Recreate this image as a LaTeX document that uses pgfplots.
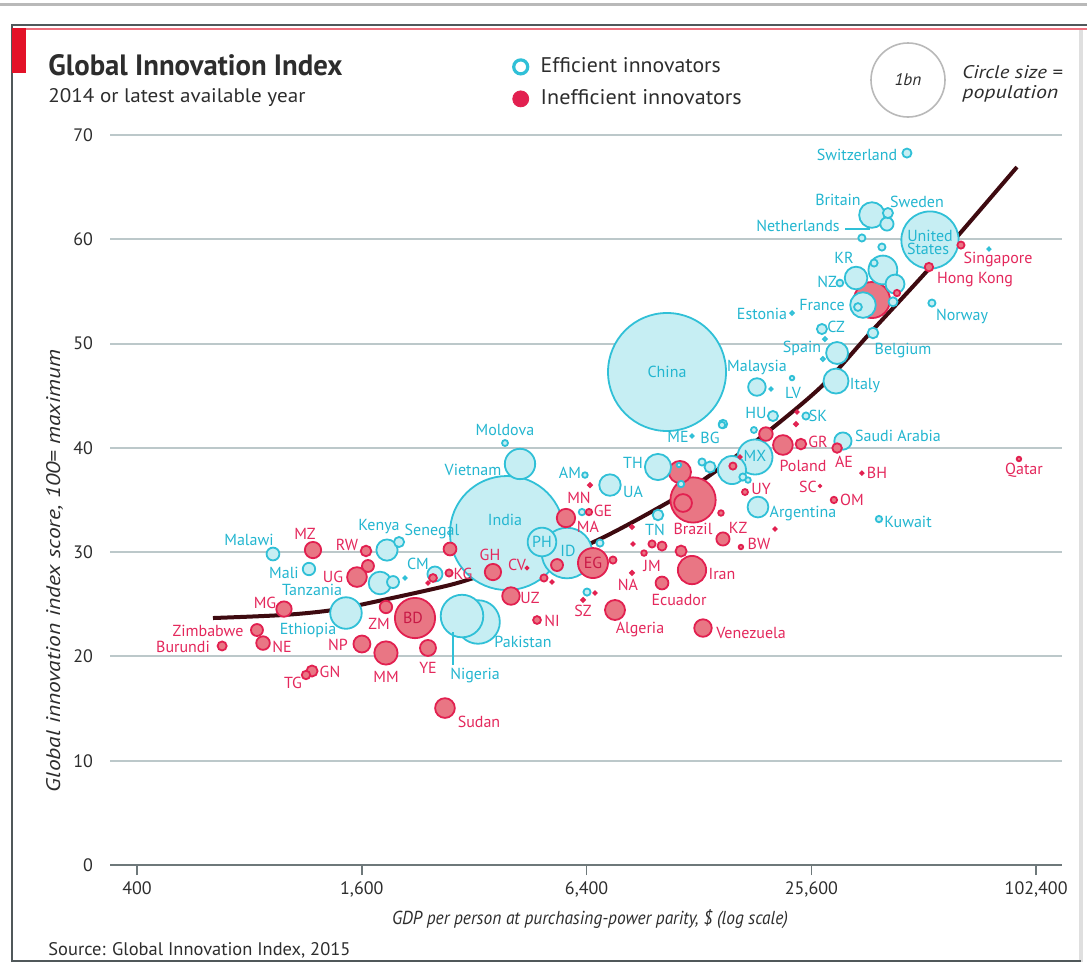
\documentclass[border=0pt]{standalone}
\usepackage{pgfplots}
\pgfplotsset{compat=1.18}
\usepackage{pgfplotstable}
\usepackage{graphicx}
\usepackage{fontspec}
\setmainfont{PT Sans}
\definecolor{cyanT}{RGB}{35,182,208}
\definecolor{cyanD}{RGB}{48,192,215}
\definecolor{cyanF}{RGB}{198,238,243}
\definecolor{redT}{RGB}{228,40,92}
\definecolor{redDk}{RGB}{200,25,70}
\definecolor{redD}{RGB}{226,32,80}
\definecolor{redF}{RGB}{233,118,132}
\definecolor{trendc}{RGB}{62,10,16}
\definecolor{gridc}{RGB}{188,200,202}
\definecolor{axisc}{RGB}{110,120,122}
\definecolor{textc}{RGB}{45,45,45}
\definecolor{ecored}{RGB}{227,18,40}
\definecolor{framec}{RGB}{80,88,90}

\pgfplotstableread{
gdp score pop
12340 35.00 200
2221 23.68 158
37200 54.17 127
12260 28.28 78
1857 20.33 53
11380 37.68 48
}\ineffBig

\pgfplotstableread{
gdp score pop
10510 47.27 1360
3917 31.83 1270
53200 59.92 320
5672 29.91 250
3277 23.30 185
2968 23.87 177
18080 39.12 120
1451 24.16 97
4244 38.45 90
39800 57.05 81
4860 30.97 80
15690 37.87 77
9940 38.16 67
37200 62.32 64
35200 53.69 64
29800 46.40 61
33720 56.28 50
1790 27.04 50
30000 49.09 47
7393 36.43 45
1869 30.20 44
18420 34.32 42
}\effBig

\pgfplotstableread{
gdp score pop
42880 55.70 35
18300 45.83 30
31100 40.65 29
2512 27.90 22
40800 61.46 17
925 29.82 16
1155 28.38 15
1940 27.13 14
13700 38.16 12
9940 33.56 11
37440 51.01 11
41040 62.51 10
27320 51.39 10
20200 43.05 10
2013 30.97 10
46160 68.26 8
42360 54.00 8
14840 42.28 7
34120 53.50 6
34960 60.12 5
39560 59.25 5
37680 57.72 5
53840 53.88 5
24760 43.05 5
13040 38.64 5
16780 37.20 5
6950 30.87 5
6417 26.17 5
30520 55.80 4.5
38840 33.17 4
14750 42.19 4
6220 33.84 4
11460 36.53 4
17960 41.71 3.5
3870 40.46 3.5
17320 36.91 3
6337 37.39 3
22720 46.69 2
11310 38.35 2
27840 50.43 1.5
27480 48.51 1.5
22720 52.92 1.3
76520 59.06 1
19960 45.64 1
12260 41.13 1
2088 27.52 1
}\effSmall

\pgfplotstableread{
gdp score pop
6657 28.95 88
7626 24.45 39
21480 40.27 38
1553 27.61 38
2672 15.05 38
5636 33.27 33
11600 34.71 31
13120 22.72 30
4014 25.79 30
1601 21.19 28
1184 30.20 26
3592 28.09 26
2406 20.81 25
990 24.54 23
19340 41.32 18
870 21.28 18
14840 31.26 17
10190 27.04 16
2756 30.30 16
1857 24.74 15
838 22.53 14
1662 28.67 14
5333 28.76 14
11460 30.10 12
1177 18.60 12
1642 30.11 11
24000 40.36 11
30000 39.98 9
676 21.00 8
10190 30.58 8
52860 57.33 7
1134 18.22 7
2482 27.52 6
4714 23.49 6
2740 28.00 5
64400 59.44 5
15780 38.25 5
9580 30.78 5
7530 29.24 5
4920 27.52 5
43400 54.84 4
29420 35.00 4
6494 33.84 4
17000 35.76 3.5
14660 33.75 3
9120 29.91 3
92100 38.93 2
16580 30.49 2
6535 36.43 1.5
8468 28.00 1.5
8468 32.41 1.5
6260 25.41 1.5
23280 42.28 1.5
23420 43.43 1
34960 37.58 1
16480 39.12 1
20460 32.21 1
8520 30.78 1
6740 26.08 1
5170 27.13 1
2406 27.04 1
4432 28.48 0.7
27000 36.34 0.5
}\ineffSmall

\pgfplotsset{
  bubble/.style 2 args={
    scatter, only marks, mark=*,
    scatter/use mapped color={draw=#1, fill=#2},
    visualization depends on={0.8*sqrt(\thisrow{pop}) \as \psize},
    scatter/@pre marker code/.append style={/tikz/mark size=\psize pt},
    mark options={line width=0.9pt},
  },
}
\newcommand{\lab}{\fontsize{8}{9}\selectfont}
\newcommand{\lc}[3]{\node[text=cyanT, font=\lab, inner sep=0pt] at (#1,#2) {#3};}
\newcommand{\lr}[3]{\node[text=redT, font=\lab, inner sep=0pt] at (#1,#2) {#3};}

\begin{document}
\begin{tikzpicture}
\path[use as bounding box] (0pt,0pt) rectangle (543.5pt,-482pt);
\begin{scope}[x=0.5pt,y=-0.5pt]
  \fill[white] (0,0) rectangle (1087,964);
  \draw[gray!55, line width=1.5pt] (0,4) -- (1087,4);
  \draw[gray!25, line width=2pt] (1081,28) -- (1081,962);
  \draw[framec, line width=1.2pt] (12,962) -- (12,25) -- (1087,25);
  \draw[framec, line width=1pt] (12,961) -- (1081,961);
  \draw[ecored!60, line width=0.8pt] (13,29) -- (1087,29);
  \fill[ecored] (12,28) rectangle (26,73);
  \node[anchor=base west, inner sep=0pt, text=textc] at (48,75) {\resizebox{147pt}{10.5pt}{\bfseries Global Innovation Index}};
  \node[anchor=base west, inner sep=0pt, text=textc] at (48,102) {\resizebox{128.5pt}{7pt}{2014 or latest available year}};
  \draw[gray!55, line width=0.8pt] (908,80) circle (18.5pt);
  \node[text=textc, inner sep=0pt] at (908,80) {\resizebox{13.5pt}{6pt}{\itshape 1bn}};
  \node[anchor=base west, inner sep=0pt, text=textc] at (962,78) {\resizebox{50pt}{6.5pt}{\itshape Circle size =}};
  \node[anchor=base west, inner sep=0pt, text=textc] at (962,98) {\resizebox{48pt}{6.5pt}{\itshape population}};
  \node[anchor=base west, inner sep=0pt, text=textc] at (48,955) {\resizebox{151pt}{6.5pt}{Source: Global Innovation Index, 2015}};
  \node[anchor=base, inner sep=0pt, text=textc] at (590,924) {\resizebox{198pt}{7.5pt}{\itshape GDP per person at purchasing-power parity, \$ (log scale)}};
  \node[anchor=base, rotate=90, inner sep=0pt, text=textc] at (60,571) {\resizebox{221pt}{7pt}{\itshape Global innovation index score, 100= maximum}};
\end{scope}

\begin{axis}[
  at={(55pt,-432.5pt)}, anchor=south west,
  scale only axis, width=476pt, height=372.5pt,
  xmode=log, log basis x=2,
  xmin=338.6, xmax=120100, ymin=0, ymax=71.43,
  axis x line*=bottom, axis y line*=left,
  x axis line style={-, draw=axisc, line width=1.2pt},
  y axis line style={draw=none},
  xtick={400,1600,6400,25600,102400},
  xticklabels={400,{1,600},{6,400},{25,600},{102,400}},
  ytick={0,10,...,70},
  ymajorgrids, major grid style={gridc, line width=1pt},
  tick align=outside, major tick length=5pt,
  xtick style={draw=axisc, line width=0.8pt},
  ytick style={draw=none},
  tick label style={font=\fontsize{9}{10}\selectfont, text=textc},
  /pgf/number format/assume math mode=true,
  clip=false,
  legend style={at={(0.4226,1.0893)}, anchor=north west, draw=none, fill=none,
    inner sep=0pt, row sep=3pt, text=textc,
    /tikz/every odd column/.append style={column sep=4pt}},
  legend cell align=left,
  legend entries={{\resizebox{90pt}{7.5pt}{Efficient innovators}},{\resizebox{100.5pt}{7.5pt}{Inefficient innovators}}},
]
\addlegendimage{only marks, mark=o, mark size=3.5pt, draw=cyanD, line width=1.6pt}
\addlegendimage{only marks, mark=*, mark size=4pt, draw=redD, fill=redD}

\addplot[smooth, trendc, line width=2pt] coordinates {
(639,23.68) (985,23.97) (1340,24.45) (1824,25.41) (2756,26.85) (3528,28.0)
(6221,30.49) (10508,34.71) (13958,37.58) (19840,41.71) (27500,46.02)
(36750,51.0) (54880,57.81) (90960,66.92)};

\addplot[bubble={redD}{redF}] table[x=gdp,y=score] {\ineffBig};
\addplot[bubble={cyanD}{cyanF}] table[x=gdp,y=score] {\effBig};
\addplot[bubble={cyanD}{cyanF}] table[x=gdp,y=score] {\effSmall};
\addplot[bubble={redD}{redF}] table[x=gdp,y=score] {\ineffSmall};
\end{axis}

\begin{scope}[x=0.5pt,y=-0.5pt]
  \draw[cyanD, line width=0.6pt] (845,229) -- (870,229);
  \draw[cyanD, line width=0.6pt] (453,632) -- (453,665);
  \lc{857}{155}{Switzerland}
  \lc{838}{200}{Britain}
  \lc{917}{202}{Sweden}
  \lc{798}{226}{Netherlands}
  \lc{930}{236}{United}
  \lc{928}{249}{States}
  \lc{844}{258}{KR}
  \lc{827}{282}{NZ}
  \lc{822}{305}{France}
  \lc{762}{314}{Estonia}
  \lc{836}{327}{CZ}
  \lc{962}{316}{Norway}
  \lc{802}{348}{Spain}
  \lc{903}{351}{Belgium}
  \lc{757}{367}{Malaysia}
  \lc{793}{393}{LV}
  \lc{865}{386}{Italy}
  \lc{756}{413}{HU}
  \lc{818}{416}{SK}
  \lc{667}{372}{China}
  \lc{898}{436}{Saudi Arabia}
  \lc{678}{437}{ME}
  \lc{710}{438}{BG}
  \lc{505}{430}{Moldova}
  \lc{473}{470}{Vietnam}
  \lc{633}{463}{TH}
  \lc{570}{473}{AM}
  \lc{633}{492}{UA}
  \lc{755}{456}{MX}
  \lc{803}{513}{Argentina}
  \lc{908}{522}{Kuwait}
  \lc{505}{520}{India}
  \lc{542}{542}{PH}
  \lc{568}{551}{ID}
  \lc{655}{530}{TN}
  \lc{249}{540}{Malawi}
  \lc{379}{527}{Kenya}
  \lc{432}{531}{Senegal}
  \lc{284}{573}{Mali}
  \lc{418}{564}{CM}
  \lc{312}{590}{Tanzania}
  \lc{308}{630}{Ethiopia}
  \lc{475}{675}{Nigeria}
  \lc{523}{642}{Pakistan}
  \lr{998}{259}{Singapore}
  \lr{975}{280}{Hong Kong}
  \lr{305}{534}{MZ}
  \lr{347}{545}{RW}
  \lr{333}{577}{UG}
  \lr{265}{603}{MG}
  \lr{208}{631}{Zimbabwe}
  \lr{183}{647}{Burundi}
  \lr{282}{647}{NE}
  \lr{379}{624}{ZM}
  \node[text=redDk, font=\lab, inner sep=0pt] at (413,618) {BD};
  \lr{338}{645}{NP}
  \lr{386}{677}{MM}
  \lr{428}{668}{YE}
  \lr{293}{683}{TG}
  \lr{330}{672}{GN}
  \lr{479}{722}{Sudan}
  \lr{463}{574}{KG}
  \lr{490}{555}{GH}
  \lr{517}{565}{CV}
  \lr{530}{598}{UZ}
  \lr{552}{621}{NI}
  \lr{583}{611}{SZ}
  \lr{579}{498}{MN}
  \lr{603}{511}{GE}
  \lr{588}{527}{MA}
  \node[text=redDk, font=\lab, inner sep=0pt] at (593,563) {EG};
  \lr{628}{585}{NA}
  \lr{652}{566}{JM}
  \lr{640}{629}{Algeria}
  \lr{679}{600}{Ecuador}
  \lr{722}{574}{Iran}
  \lr{751}{633}{Venezuela}
  \lr{693}{529}{Brazil}
  \lr{738}{528}{KZ}
  \lr{759}{544}{BW}
  \lr{761}{489}{UY}
  \lr{803}{466}{Poland}
  \lr{818}{442}{GR}
  \lr{844}{462}{AE}
  \lr{877}{473}{BH}
  \lr{808}{487}{SC}
  \lr{852}{500}{OM}
  \lr{1024}{470}{Qatar}
\end{scope}
\end{tikzpicture}
\end{document}
